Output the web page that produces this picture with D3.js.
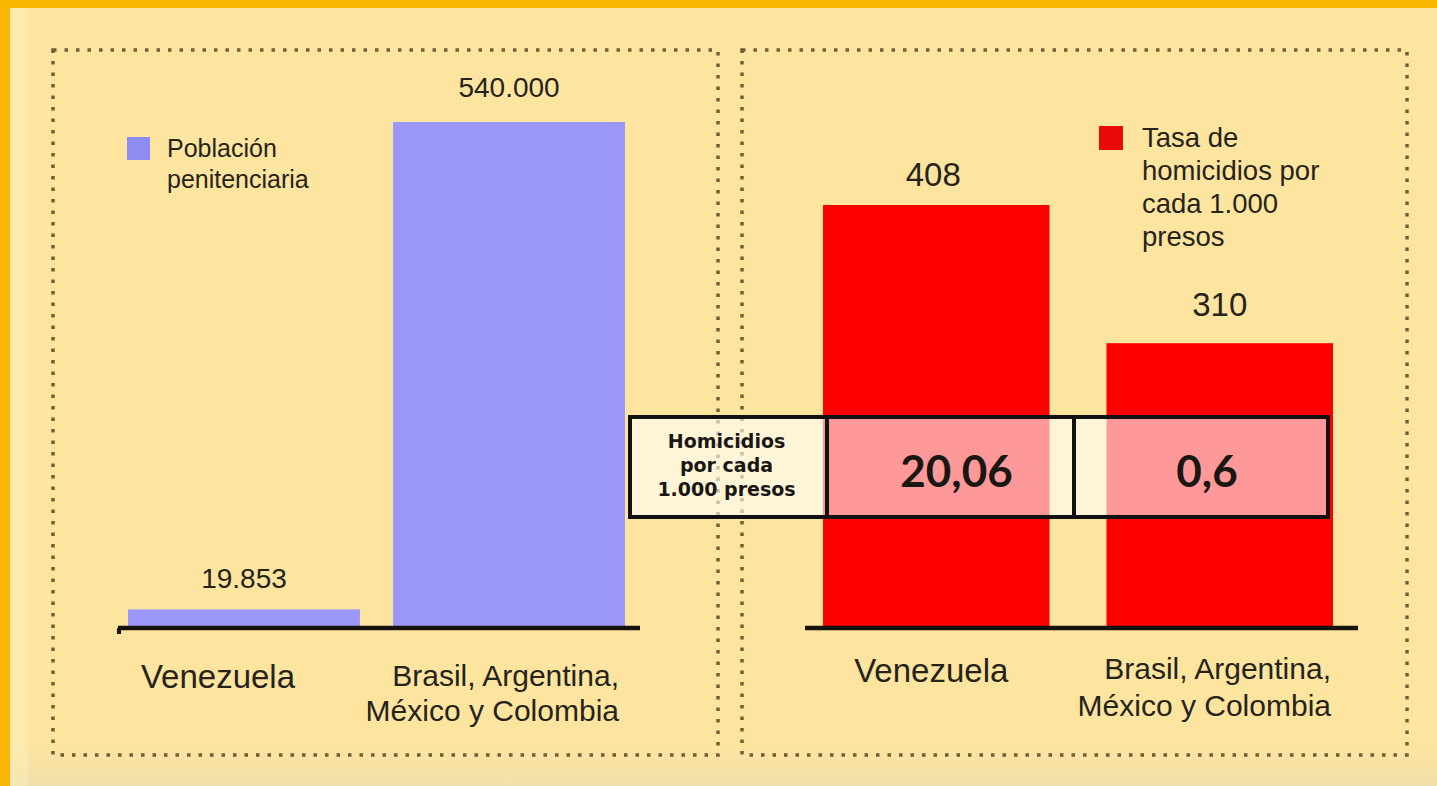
<!DOCTYPE html>
<html>
<head>
<meta charset="utf-8">
<script src="https://cdn.jsdelivr.net/npm/d3@7"></script>
<style>
  body { margin: 0; background: #fde5a0; }
  svg { display: block; }
  text { font-family: "Liberation Sans", Arial, sans-serif; fill: #26231a; }
  .tbl { font-family: Lato, "Open Sans", sans-serif; font-weight: 700; fill: #1a1712; }
  .tbl.lbl { font-family: "DejaVu Sans", sans-serif; }
</style>
</head>
<body>
<script>
// data
const categories = ["Venezuela", "Brasil, Argentina, México y Colombia"];
const categoryLines = [["Venezuela"], ["Brasil, Argentina,", "México y Colombia"]];
const prisonPopulation = [19853, 540000];
const homicideRate = [408, 310];
const homicidesPer1000 = [20.06, 0.6];
const legendLeft = ["Población", "penitenciaria"];
const legendRight = ["Tasa de", "homicidios por", "cada 1.000", "presos"];
const tableLabel = ["Homicidios", "por cada", "1.000 presos"];

const width = 1437;
const height = 786;
const baseY = 628;

const es = d3.formatLocale({ decimal: ",", thousands: ".", grouping: [3], currency: ["", ""] });
const fmtInt = es.format(",d");
const fmtDec = es.format("~g");

const svg = d3.select("body").append("svg")
  .attr("width", width)
  .attr("height", height);

// background + frame
const defs = svg.append("defs");
const grad = defs.append("linearGradient").attr("id", "bottomFade")
  .attr("x1", 0).attr("y1", 0).attr("x2", 0).attr("y2", 1);
grad.append("stop").attr("offset", "0%").attr("stop-color", "#fde5a0");
grad.append("stop").attr("offset", "100%").attr("stop-color", "#f1dfab");

svg.append("rect").attr("width", width).attr("height", height).attr("fill", "#f8b602");
svg.append("rect").attr("x", 10).attr("y", 8).attr("width", width - 10).attr("height", height - 8)
  .attr("fill", "#fde5a0");
svg.append("rect").attr("x", 10).attr("y", 745).attr("width", width - 10).attr("height", 41)
  .attr("fill", "url(#bottomFade)");
svg.append("rect").attr("x", 10).attr("y", 8).attr("width", 18).attr("height", height - 8)
  .attr("fill", "#fff3c8").attr("opacity", 0.35);

// dotted panel frames
const dots = { stroke: "#6e5f36", "stroke-width": 3.5, "stroke-dasharray": "3.5 8", fill: "none" };
[[53, 50, 718, 755], [742, 50, 1407, 755]].forEach(([x0, y0, x1, y1]) => {
  const r = svg.append("rect").attr("x", x0).attr("y", y0)
    .attr("width", x1 - x0).attr("height", y1 - y0);
  Object.entries(dots).forEach(([k, v]) => r.attr(k, v));
});

function drawPanel(cfg) {
  const g = svg.append("g");

  const x = d3.scaleBand()
    .domain(categories)
    .range(cfg.xRange)
    .paddingInner(cfg.pad)
    .paddingOuter(0);

  const y = d3.scaleLinear()
    .domain(cfg.yDomain)
    .range([baseY, cfg.yTop]);

  g.selectAll("rect.bar")
    .data(cfg.values)
    .enter()
    .append("rect")
    .attr("class", "bar")
    .attr("x", (d, i) => x(categories[i]))
    .attr("y", (d) => y(d))
    .attr("width", x.bandwidth())
    .attr("height", (d) => baseY - y(d))
    .attr("fill", cfg.color);

  g.selectAll("text.val")
    .data(cfg.values)
    .enter()
    .append("text")
    .attr("class", "val")
    .attr("x", (d, i) => x(categories[i]) + x.bandwidth() / 2 + cfg.valDx[i])
    .attr("y", (d, i) => y(d) - cfg.valGap[i])
    .attr("text-anchor", "middle")
    .style("font-size", cfg.valSize + "px")
    .text(cfg.fmt);

  // baseline as an axis without ticks
  const axis = g.append("g")
    .attr("transform", `translate(0,${baseY})`)
    .call(d3.axisBottom(x).tickSize(0).tickSizeOuter(0).tickFormat(""));
  axis.select(".domain")
    .attr("d", `M${cfg.axisX[0]},0H${cfg.axisX[1]}`)
    .attr("stroke", "#16130e")
    .attr("stroke-width", 4.5);
  if (cfg.hook) {
    g.append("path")
      .attr("d", `M${cfg.axisX[0] + 1},${baseY}v6`)
      .attr("stroke", "#16130e").attr("stroke-width", 4);
  }

  // category labels
  categoryLines.forEach((lines, i) => {
    const t = g.append("text")
      .attr("text-anchor", cfg.catAnchor[i])
      .attr("x", cfg.catAnchor[i] === "end"
        ? x(categories[i]) + x.bandwidth() + cfg.catDx[i]
        : x(categories[i]) + x.bandwidth() / 2 + cfg.catDx[i])
      .attr("y", cfg.catY[i])
      .style("font-size", cfg.catSize[i] + "px");
    lines.forEach((l, j) => {
      t.append("tspan")
        .attr("x", t.attr("x"))
        .attr("dy", j === 0 ? 0 : cfg.catLead)
        .text(l);
    });
  });

  // legend
  const lg = g.append("g").attr("transform", `translate(${cfg.legend[0]},${cfg.legend[1]})`);
  lg.append("rect").attr("width", cfg.legendBox).attr("height", cfg.legendBox)
    .attr("fill", cfg.legendColor);
  const lt = lg.append("text").style("font-size", cfg.legendSize + "px");
  cfg.legendLines.forEach((l, j) => {
    lt.append("tspan").attr("x", cfg.legendTextDx)
      .attr("y", cfg.legendBase + j * cfg.legendLead).text(l);
  });

  return { x, y };
}

drawPanel({
  xRange: [128, 625], pad: 0.125,
  yDomain: [0, 540000], yTop: 122,
  values: prisonPopulation, color: "#9a97f9", fmt: fmtInt,
  valDx: [0, 0], valGap: [21, 25], valSize: 28,
  axisX: [118, 640], hook: true,
  catAnchor: ["middle", "end"], catDx: [-26, -6], catY: [688, 686], catSize: [33, 30], catLead: 35,
  legend: [127, 137], legendBox: 23, legendColor: "#8d8cf2",
  legendLines: legendLeft, legendSize: 25, legendTextDx: 40, legendBase: 20, legendLead: 31
});

const right = drawPanel({
  xRange: [823, 1333], pad: 0.201,
  yDomain: [108, 408], yTop: 205,
  values: homicideRate, color: "#fe0000", fmt: fmtInt,
  valDx: [-3, 0], valGap: [19, 27], valSize: 33,
  axisX: [805, 1358], hook: false,
  catAnchor: ["middle", "end"], catDx: [-5, -2], catY: [682, 679], catSize: [33, 30], catLead: 37,
  legend: [1099, 126], legendBox: 24, legendColor: "#ea0a0a",
  legendLines: legendRight, legendSize: 27.5, legendTextDx: 43, legendBase: 21, legendLead: 33
});

// overlay table: homicides per 1,000 prisoners
const xr = right.x;
const tTop = 417, tBot = 517, tLeft = 630;
const cellEdges = [
  tLeft,
  xr(categories[0]) + 4,
  (xr(categories[0]) + xr.bandwidth() + xr(categories[1])) / 2 - 4,
  xr(categories[1]) + xr.bandwidth() - 5
];

const tbl = svg.append("g");
tbl.append("rect")
  .attr("x", tLeft).attr("y", tTop)
  .attr("width", cellEdges[3] - tLeft).attr("height", tBot - tTop)
  .attr("fill", "#ffffff").attr("fill-opacity", 0.6)
  .attr("stroke", "#111").attr("stroke-width", 4);
[cellEdges[1], cellEdges[2]].forEach((cx) => {
  tbl.append("line").attr("x1", cx).attr("x2", cx).attr("y1", tTop).attr("y2", tBot)
    .attr("stroke", "#111").attr("stroke-width", 4);
});

const lbl = tbl.append("text").attr("class", "tbl lbl")
  .attr("text-anchor", "middle").style("font-size", "19px");
tableLabel.forEach((l, j) => {
  lbl.append("tspan").attr("x", (cellEdges[0] + cellEdges[1]) / 2 - 2)
    .attr("y", 448 + j * 24).text(l);
});

tbl.selectAll("text.num")
  .data(homicidesPer1000)
  .enter()
  .append("text")
  .attr("class", "tbl num")
  .attr("text-anchor", "middle")
  .attr("x", (d, i) => (cellEdges[i + 1] + cellEdges[i + 2]) / 2 + 6)
  .attr("y", 487)
  .style("font-size", "44px")
  .text(fmtDec);
</script>
</body>
</html>
